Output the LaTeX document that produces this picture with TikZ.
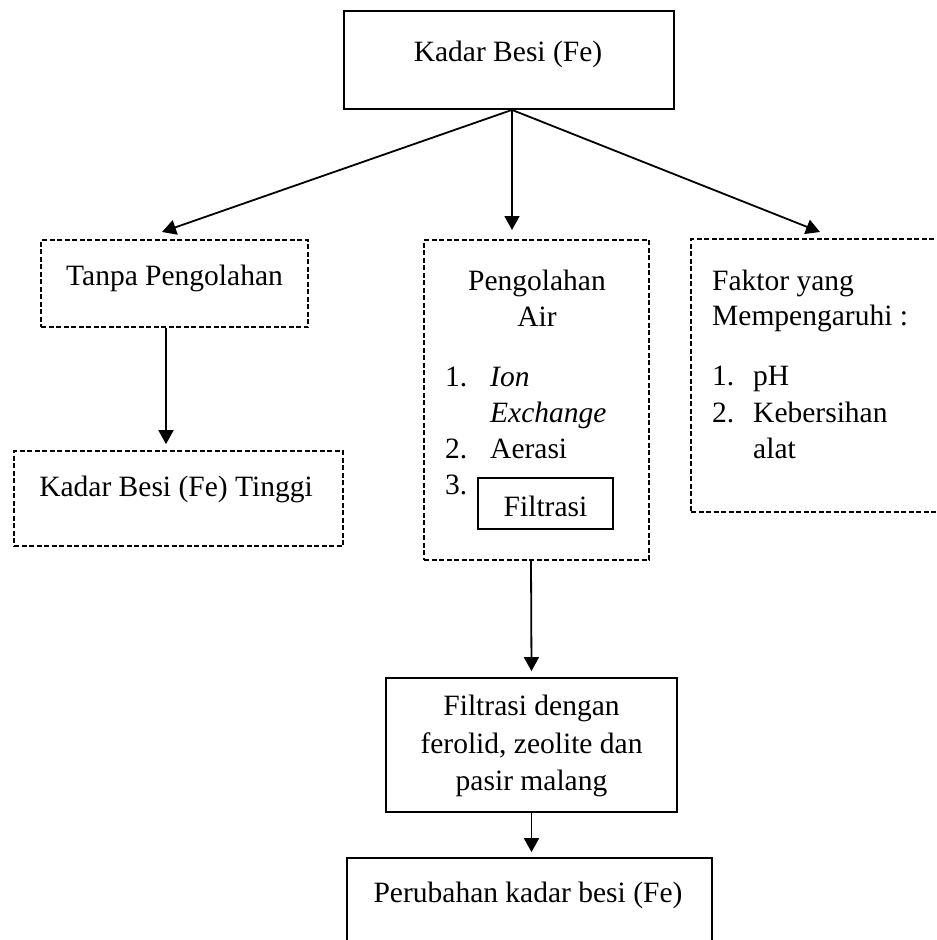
\documentclass[tikz,border=0pt]{standalone}
\usepackage{fontspec}
\setmainfont{Liberation Serif}
\usetikzlibrary{arrows.meta}
\begin{document}
\begin{tikzpicture}[x=1pt,y=-1pt,
  box/.style={draw, line width=1.8pt, rectangle, inner sep=0pt},
  dbox/.style={draw, line width=1.7pt, rectangle, inner sep=0pt, dash pattern=on 5pt off 2.5pt},
  arr/.style={-{Triangle[width=15pt,length=14pt]}, line width=1.8pt},
  txt/.style={font=\fontsize{29.5}{37}\selectfont, inner sep=0pt}]
\useasboundingbox (0,0) rectangle (937,940);
\clip (0,0) rectangle (937,940);
\fill[white] (0,0) rectangle (937,940);

% boxes
\node[box, minimum width=330pt, minimum height=98pt] (top) at (509,60) {};
\node[dbox, minimum width=267pt, minimum height=87pt] (tanpa) at (174.5,283.5) {};
\node[dbox, minimum width=329pt, minimum height=95pt] (kt) at (178.5,498.5) {};
\node[dbox, minimum width=225pt, minimum height=320pt] (mid) at (536.5,400) {};
\node[box, minimum width=135pt, minimum height=51pt] (fbox) at (545.5,503.5) {};
\node[dbox, minimum width=270pt, minimum height=273pt] (fak) at (826,375.5) {};
\node[box, minimum width=291pt, minimum height=134pt] (filt) at (531.5,745) {};
\node[box, minimum width=365pt, minimum height=120pt] (bot) at (529.5,918) {};

% texts
\node[txt, anchor=base] (ttop) at (508,61) {Kadar Besi (Fe)};
\node[txt, anchor=base] (ttanpa) at (174.5,285) {Tanpa Pengolahan};
\node[txt, anchor=base] (tkt) at (176,496) {Kadar Besi (Fe) Tinggi};

\node[txt, anchor=base] (tm1) at (537,290) {Pengolahan};
\node[txt, anchor=base] (tm2) at (537,326) {Air};
\node[txt, anchor=base west] (n1) at (445,386) {1.};
\node[txt, anchor=base west] (i1) at (490,386) {\itshape Ion};
\node[txt, anchor=base west] (i1b) at (490,422) {\itshape Exchange};
\node[txt, anchor=base west] (n2) at (445,458) {2.};
\node[txt, anchor=base west] (i2) at (490,458) {Aerasi};
\node[txt, anchor=base west] (n3) at (445,494) {3.};
\node[txt, anchor=base] (tf) at (545.5,516) {Filtrasi};

\node[txt, anchor=base west] (fk1) at (712,290) {Faktor yang};
\node[txt, anchor=base west] (fk2) at (712,325) {Mempengaruhi :};
\node[txt, anchor=base west] (fn1) at (712,385) {1.};
\node[txt, anchor=base west] (fi1) at (753,385) {pH};
\node[txt, anchor=base west] (fn2) at (712,422) {2.};
\node[txt, anchor=base west] (fi2) at (753,422) {Kebersihan};
\node[txt, anchor=base west] (fi2b) at (753,458) {alat};

\node[txt, anchor=base] (f1) at (531.5,715) {Filtrasi dengan};
\node[txt, anchor=base] (f2) at (531.5,753) {ferolid, zeolite dan};
\node[txt, anchor=base] (f3) at (531.5,790) {pasir malang};

\node[txt, anchor=base] (tb) at (528,902) {Perubahan kadar besi (Fe)};

% connectors
\coordinate (apex) at ([xshift=3pt]top.south);
\coordinate (tipL) at (162,232);
\coordinate (tipM) at (512,230);
\coordinate (tipR) at (820,232);
\draw[arr] (apex) -- (tipL);
\draw[arr] (apex) -- (tipM);
\draw[arr] (apex) -- (tipR);
\draw[arr] ([xshift=-8.5pt]tanpa.south) -- ([xshift=-12.5pt,yshift=6pt]kt.north);
\draw[arr] ([xshift=-5.5pt]mid.south) -- ([yshift=6pt]filt.north);
\draw[arr] (filt.south) -- ([xshift=2pt,yshift=5pt]bot.north);
\end{tikzpicture}
\end{document}
